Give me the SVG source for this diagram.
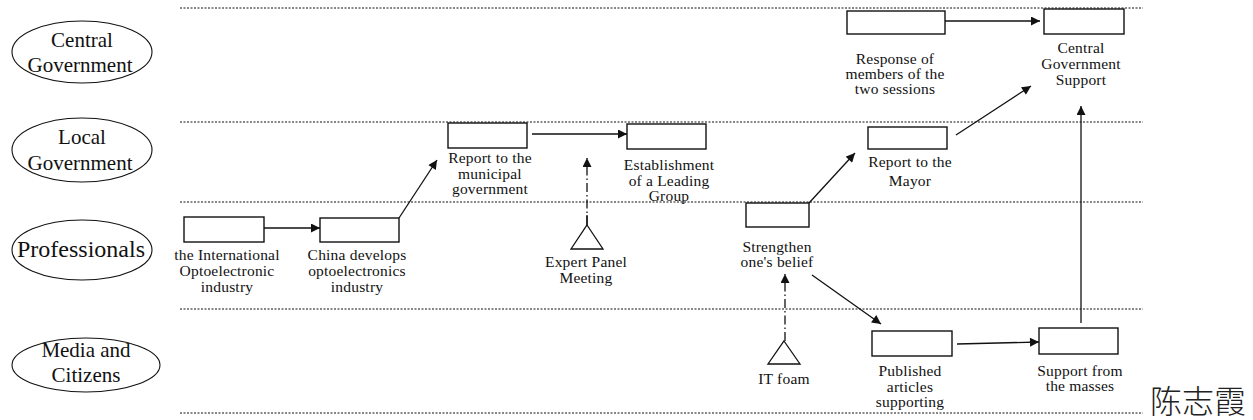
<svg xmlns="http://www.w3.org/2000/svg" width="1253" height="420" viewBox="0 0 1253 420">
  <style>
    .lane { fill: none; stroke: #111; stroke-width: 1; stroke-dasharray: 2 1.5; }
    .actor { fill: #fff; stroke: #111; stroke-width: 1.1; }
    .actor-t { font-family: "Liberation Serif", serif; font-size: 21px; fill: #111; text-anchor: middle; }
    .box { fill: #fff; stroke: #111; stroke-width: 1.4; }
    .lbl { font-family: "Liberation Serif", serif; font-size: 15.5px; fill: #111; text-anchor: middle; letter-spacing: 0.2px; }
    .arr { fill: none; stroke: #111; stroke-width: 1.3; marker-end: url(#ah); }
    .dd { fill: none; stroke: #111; stroke-width: 1.3; stroke-dasharray: 9 3 1.5 3; marker-end: url(#ah); }
    .tri { fill: #fff; stroke: #111; stroke-width: 1.3; }
  </style>
  <defs>
    <marker id="ah" viewBox="0 0 10 10" refX="10" refY="5" markerWidth="10" markerHeight="9" markerUnits="userSpaceOnUse" orient="auto">
      <path d="M0,0 L10,5 L0,10 z" fill="#111"/>
    </marker>
  </defs>

  <!-- swimlane separators -->
  <g id="lanes">
    <line class="lane" x1="180" y1="8" x2="1143" y2="8"/>
    <line class="lane" x1="180" y1="122" x2="1143" y2="122"/>
    <line class="lane" x1="180" y1="202" x2="1143" y2="202"/>
    <line class="lane" x1="180" y1="309" x2="1143" y2="309"/>
    <line class="lane" x1="180" y1="413" x2="1143" y2="413"/>
  </g>

  <!-- lane actors -->
  <g id="actor-central">
    <ellipse class="actor" cx="82" cy="52" rx="70" ry="31"/>
    <text class="actor-t" x="82" y="47">Central</text>
    <text class="actor-t" x="80" y="72">Government</text>
  </g>
  <g id="actor-local">
    <ellipse class="actor" cx="82" cy="150" rx="70" ry="32"/>
    <text class="actor-t" x="82" y="144">Local</text>
    <text class="actor-t" x="80" y="170">Government</text>
  </g>
  <g id="actor-professionals">
    <ellipse class="actor" cx="82" cy="250" rx="70" ry="30"/>
    <text class="actor-t" x="81" y="257" style="font-size:24px">Professionals</text>
  </g>
  <g id="actor-media">
    <ellipse class="actor" cx="86" cy="365" rx="74" ry="27"/>
    <text class="actor-t" x="86" y="357">Media and</text>
    <text class="actor-t" x="86" y="382">Citizens</text>
  </g>

  <!-- connectors -->
  <g id="connectors">
    <line class="arr" x1="264" y1="228" x2="320" y2="228"/>
    <line class="arr" x1="399" y1="218" x2="437" y2="160"/>
    <line class="arr" x1="532" y1="134" x2="627" y2="134"/>
    <line class="dd" x1="587" y1="225" x2="587" y2="158"/>
    <line class="arr" x1="809" y1="203" x2="855" y2="153"/>
    <line class="arr" x1="956" y1="135" x2="1031" y2="86"/>
    <line class="arr" x1="945" y1="21" x2="1040" y2="21"/>
    <line class="dd" x1="785" y1="341" x2="785" y2="274"/>
    <line class="arr" x1="812" y1="275" x2="881" y2="324"/>
    <line class="arr" x1="957" y1="344" x2="1039" y2="342"/>
    <line class="arr" x1="1081" y1="323" x2="1081" y2="106"/>
  </g>

  <!-- nodes -->
  <g id="n-international">
    <rect class="box" x="184" y="217" width="80" height="25"/>
    <text class="lbl" x="227" y="260">the International</text>
    <text class="lbl" x="227" y="276">Optoelectronic</text>
    <text class="lbl" x="227" y="292">industry</text>
  </g>
  <g id="n-china">
    <rect class="box" x="320" y="218" width="79" height="24"/>
    <text class="lbl" x="357" y="260">China develops</text>
    <text class="lbl" x="357" y="276">optoelectronics</text>
    <text class="lbl" x="357" y="292">industry</text>
  </g>
  <g id="n-municipal">
    <rect class="box" x="448" y="123" width="79" height="25"/>
    <text class="lbl" x="490" y="163">Report to the</text>
    <text class="lbl" x="490" y="179">municipal</text>
    <text class="lbl" x="490" y="194">government</text>
  </g>
  <g id="n-leading">
    <rect class="box" x="627" y="124" width="79" height="25"/>
    <text class="lbl" x="669" y="170">Establishment</text>
    <text class="lbl" x="669" y="186">of a Leading</text>
    <text class="lbl" x="669" y="201">Group</text>
  </g>
  <g id="n-expert">
    <path class="tri" d="M587,215 L587,225 M587,225 L603,249 L571,249 Z"/>
    <text class="lbl" x="586" y="267">Expert Panel</text>
    <text class="lbl" x="586" y="283">Meeting</text>
  </g>
  <g id="n-belief">
    <rect class="box" x="746" y="203" width="63" height="24"/>
    <text class="lbl" x="777" y="252">Strengthen</text>
    <text class="lbl" x="777" y="267">one's belief</text>
  </g>
  <g id="n-itfoam">
    <path class="tri" d="M784,341 L800,364 L768,364 Z"/>
    <text class="lbl" x="784" y="384">IT foam</text>
  </g>
  <g id="n-mayor">
    <rect class="box" x="868" y="127" width="79" height="22"/>
    <text class="lbl" x="910" y="167">Report to the</text>
    <text class="lbl" x="910" y="186">Mayor</text>
  </g>
  <g id="n-sessions">
    <rect class="box" x="847" y="11" width="98" height="23"/>
    <text class="lbl" x="895" y="64">Response of</text>
    <text class="lbl" x="895" y="79">members of the</text>
    <text class="lbl" x="895" y="94">two sessions</text>
  </g>
  <g id="n-central-support">
    <rect class="box" x="1044" y="9" width="80" height="25"/>
    <text class="lbl" x="1081" y="53">Central</text>
    <text class="lbl" x="1081" y="69">Government</text>
    <text class="lbl" x="1081" y="85">Support</text>
  </g>
  <g id="n-published">
    <rect class="box" x="872" y="331" width="80" height="25"/>
    <text class="lbl" x="910" y="376">Published</text>
    <text class="lbl" x="910" y="392">articles</text>
    <text class="lbl" x="910" y="407">supporting</text>
  </g>
  <g id="n-masses">
    <rect class="box" x="1039" y="328" width="79" height="26"/>
    <text class="lbl" x="1080" y="376">Support from</text>
    <text class="lbl" x="1080" y="391">the masses</text>
  </g>

  <text x="1150" y="413" style="font-family:'Noto Sans CJK SC',sans-serif;font-size:32px;font-weight:300;fill:#222">陈志霞</text>
</svg>
